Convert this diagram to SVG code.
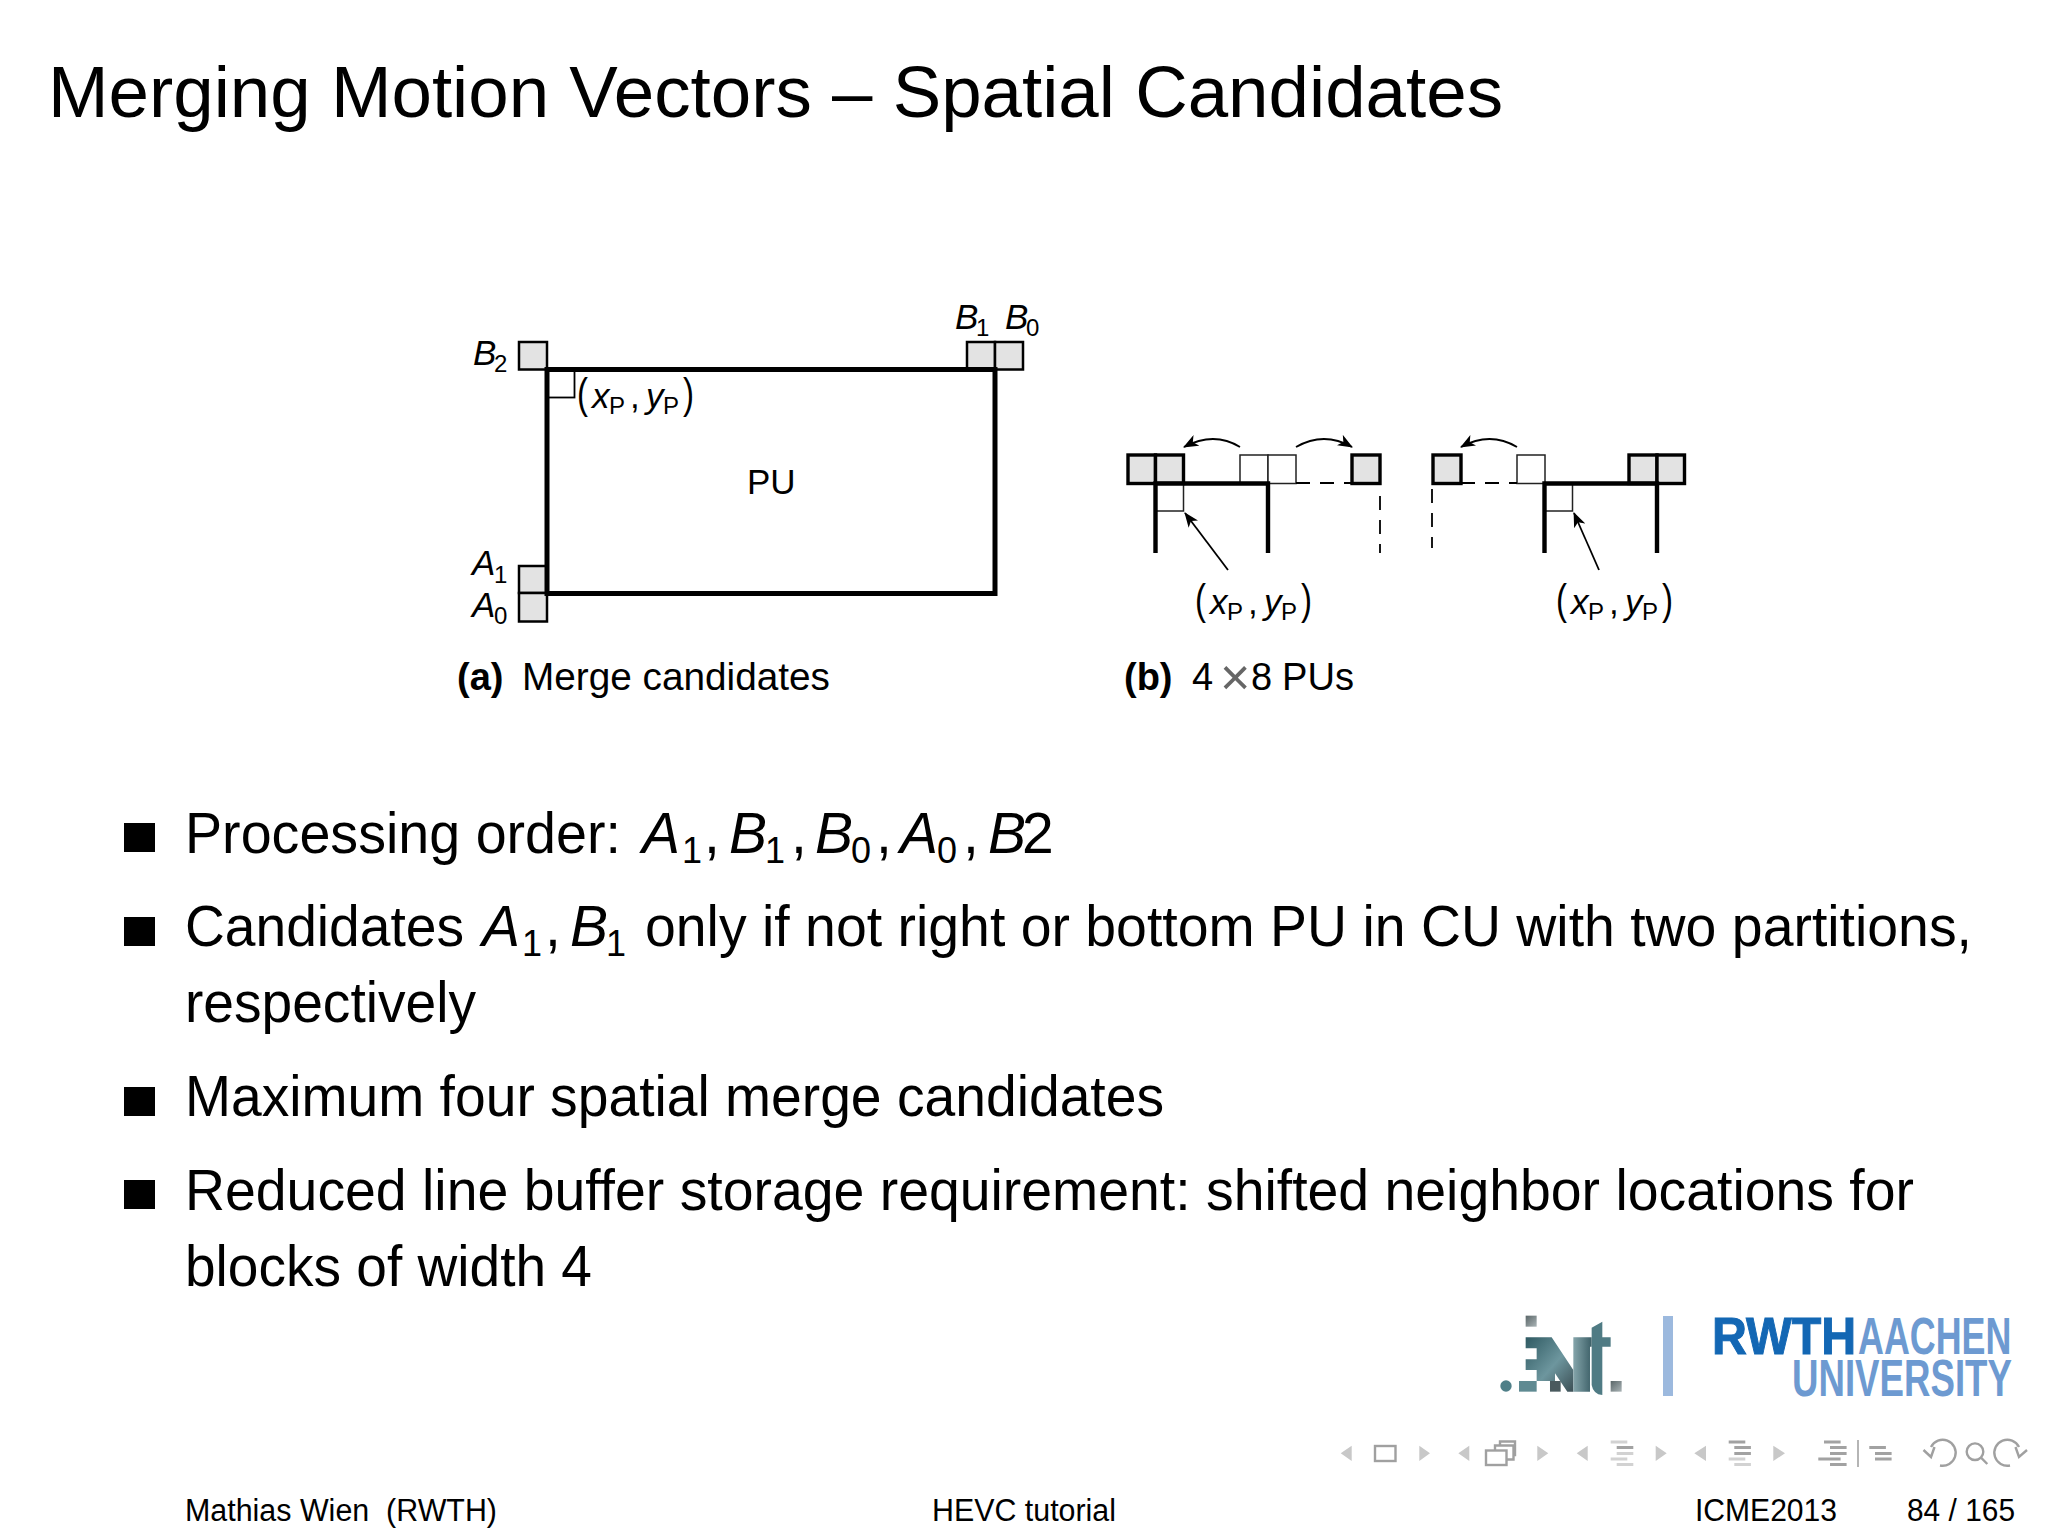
<svg xmlns="http://www.w3.org/2000/svg" width="2048" height="1536" viewBox="0 0 2048 1536">
<defs>
<style>
text{font-family:"Liberation Sans",Arial,sans-serif;fill:#000}
.i{font-style:italic}
.body{font-size:57px}
.sub{font-size:36px}
.m{font-size:35px}
.s{font-size:24px}
.par{font-size:33px}
.cap{font-size:38px}
.foot{font-size:31px}
.cand{fill:#e3e3e3;stroke:#000;stroke-width:2.5}
.cb{fill:#e3e3e3;stroke:#000;stroke-width:3.4}
.open{fill:#fff;stroke:#222;stroke-width:1.5}
.pu{fill:none;stroke:#000;stroke-width:4.4}
.pua{fill:none;stroke:#000;stroke-width:5}
.dash{fill:none;stroke:#000;stroke-width:1.8;stroke-dasharray:14 10}
.thin{fill:none;stroke:#000;stroke-width:1.8}
.bullet{fill:#000}
.tri{fill:#c8c8c8}
.d{fill:#a2a2a2}
.l{fill:#d2d2d2}
.navl{fill:none;stroke:#a0a0a0;stroke-width:2.4}
.rw{font-size:52px;font-weight:bold}
</style>
<marker id="ah" viewBox="0 0 15 12" refX="14" refY="6" markerWidth="15" markerHeight="12" markerUnits="userSpaceOnUse" orient="auto"><path d="M0 0L15 6L0 12L4 6Z" fill="#000"/></marker>
<linearGradient id="lg" x1="0" y1="0" x2="1" y2="1"><stop offset="0" stop-color="#2f5a62"/><stop offset=".55" stop-color="#6d969e"/><stop offset="1" stop-color="#3c4f55"/></linearGradient>
<linearGradient id="lt" x1="0" y1="0" x2="1" y2="0"><stop offset="0" stop-color="#85a5ab"/><stop offset="1" stop-color="#3d6068"/></linearGradient>
<linearGradient id="lb" x1="0" y1="0" x2="1" y2="1"><stop offset="0" stop-color="#5a6668"/><stop offset="1" stop-color="#aab4b6"/></linearGradient>
<g id="xy"><text class="par" x="0" y="0" transform="scale(1 1.3)">(</text><text class="m i" x="15" y="0">x</text><text class="s" x="32" y="6">P</text><text class="m" x="53" y="0">,</text><text class="m i" x="69" y="0">y</text><text class="s" x="86" y="6">P</text><text class="par" x="106" y="0" transform="scale(1 1.3)">)</text></g>
</defs>
<rect width="2048" height="1536" fill="#fff"/>
<text x="48" y="117" font-size="72" textLength="1455" lengthAdjust="spacingAndGlyphs">Merging Motion Vectors – Spatial Candidates</text>

<g id="figure-a">
<rect class="cand" x="519" y="342" width="28" height="27.5"/>
<rect class="cand" x="967" y="342" width="28" height="27.5"/>
<rect class="cand" x="995" y="342" width="28" height="27.5"/>
<rect class="cand" x="519" y="566" width="28" height="27"/>
<rect class="cand" x="519" y="593" width="28" height="28.5"/>
<rect class="thin" x="547" y="369.5" width="27.5" height="28"/>
<rect class="pua" x="547" y="369.5" width="448" height="224"/>
<text class="m" x="747" y="494">PU</text>
<g><text class="m i" x="473" y="365">B</text><text class="s" x="494" y="372">2</text></g>
<g><text class="m i" x="955" y="329">B</text><text class="s" x="976" y="336">1</text></g>
<g><text class="m i" x="1005" y="329">B</text><text class="s" x="1026" y="336">0</text></g>
<g><text class="m i" x="472" y="575">A</text><text class="s" x="494" y="583">1</text></g>
<g><text class="m i" x="472" y="617">A</text><text class="s" x="494" y="624">0</text></g>
<use href="#xy" x="577" y="408"/>
<text class="cap" x="457" y="690" font-weight="bold">(a)</text>
<text class="cap" x="522" y="690" textLength="308" lengthAdjust="spacingAndGlyphs">Merge candidates</text>
</g>

<g id="figure-b">
<g id="pu-left">
<rect class="cb" x="1128" y="455" width="27.5" height="28.5"/>
<rect class="cb" x="1155.5" y="455" width="28" height="28.5"/>
<rect class="open" x="1240" y="455" width="28" height="28.5"/>
<rect class="open" x="1268" y="455" width="28" height="28.5"/>
<rect class="cb" x="1352" y="455" width="28" height="28.5"/>
<rect class="open" x="1155.5" y="483.5" width="28" height="27.5"/>
<path class="pu" d="M1155.5 553V483.5H1268V553"/>
<path class="dash" d="M1296 483H1352"/>
<path class="dash" d="M1380 496V553"/>
</g>
<g id="pu-right">
<rect class="cb" x="1433" y="455" width="28" height="28.5"/>
<rect class="open" x="1517" y="455" width="28" height="28.5"/>
<rect class="cb" x="1629" y="455" width="28" height="28.5"/>
<rect class="cb" x="1657" y="455" width="27.5" height="28.5"/>
<rect class="open" x="1544.5" y="483.5" width="28" height="27.5"/>
<path class="pu" d="M1544.5 553V483.5H1657V553"/>
<path class="dash" d="M1461 483H1517"/>
<path class="dash" d="M1432 489V548"/>
</g>
<g id="connectors">
<path class="thin" marker-end="url(#ah)" d="M1240 447Q1214 431 1184 447"/>
<path class="thin" marker-end="url(#ah)" d="M1296 447Q1324 431 1352 447"/>
<path class="thin" marker-end="url(#ah)" d="M1517 447Q1490 431 1461 447"/>
<path class="thin" marker-end="url(#ah)" d="M1228 570L1185 513"/>
<path class="thin" marker-end="url(#ah)" d="M1599 570L1574 513"/>
</g>
<use href="#xy" x="1195" y="614"/>
<use href="#xy" x="1556" y="614"/>
<text class="cap" x="1124" y="690" font-weight="bold">(b)</text>
<text class="cap" x="1192" y="690">4</text><text x="1220" y="695" font-size="52" style="fill:#666">×</text><text class="cap" x="1251" y="690">8</text><text class="cap" x="1282" y="690" textLength="72" lengthAdjust="spacingAndGlyphs">PUs</text>
</g>

<g id="bullets">
<rect class="bullet" x="124" y="823" width="31" height="29"/>
<rect class="bullet" x="124" y="917" width="31" height="29"/>
<rect class="bullet" x="124" y="1087" width="31" height="29"/>
<rect class="bullet" x="124" y="1180" width="31" height="29"/>
<text class="body" x="185" y="853" textLength="436" lengthAdjust="spacingAndGlyphs">Processing order:</text>
<text class="body i" x="642" y="853">A</text><text class="sub" x="682" y="863">1</text><text class="body" x="704" y="853">,</text>
<text class="body i" x="729" y="853">B</text><text class="sub" x="765" y="863">1</text><text class="body" x="791" y="853">,</text>
<text class="body i" x="815" y="853">B</text><text class="sub" x="851" y="863">0</text><text class="body" x="876" y="853">,</text>
<text class="body i" x="900" y="853">A</text><text class="sub" x="937" y="863">0</text><text class="body" x="963" y="853">,</text>
<text class="body i" x="988" y="853">B</text><text class="body" x="1022" y="853">2</text>
<text class="body" x="185" y="946" textLength="279" lengthAdjust="spacingAndGlyphs">Candidates</text>
<text class="body i" x="482" y="946">A</text><text class="sub" x="522" y="956">1</text><text class="body" x="545" y="946">,</text>
<text class="body i" x="570" y="946">B</text><text class="sub" x="606" y="956">1</text>
<text class="body" x="645" y="946" textLength="1327" lengthAdjust="spacingAndGlyphs">only if not right or bottom PU in CU with two partitions,</text>
<text class="body" x="185" y="1022" textLength="291" lengthAdjust="spacingAndGlyphs">respectively</text>
<text class="body" x="185" y="1116" textLength="979" lengthAdjust="spacingAndGlyphs">Maximum four spatial merge candidates</text>
<text class="body" x="185" y="1210" textLength="1729" lengthAdjust="spacingAndGlyphs">Reduced line buffer storage requirement: shifted neighbor locations for</text>
<text class="body" x="185" y="1286" textLength="407" lengthAdjust="spacingAndGlyphs">blocks of width 4</text>
</g>

<g id="logo-int" transform="translate(1490 1305) scale(.3333)">
<rect x="107" y="32" width="33" height="33" fill="url(#lb)"/>
<circle cx="48" cy="243" r="17" fill="#4f7f88"/>
<rect x="87" y="228" width="53" height="32" fill="#5f8a92"/>
<path d="M107 97H185L250 195V260H232L195 205V228H140V195H107V163H140V130H107Z" fill="url(#lg)"/>
<rect x="180" y="228" width="32" height="32" fill="#4a5a5e"/>
<path d="M250 97H305V125H300V260H250Z" fill="url(#lt)"/>
<path d="M305 68L337 50V97H362V125H337V270Q310 268 305 240Z" fill="#4f7b84"/>
<rect x="362" y="228" width="33" height="32" fill="url(#lb)"/>
</g>
<rect id="logo-bar" x="1663" y="1316" width="10" height="80" fill="#9cb9de"/>
<g id="logo-rwth">
<text class="rw" transform="translate(1712 1354) scale(.93 1)" stroke="#1367b4" stroke-width="1" style="fill:#1367b4">RWTH</text>
<text class="rw" transform="translate(1858 1354) scale(.69 1)" style="fill:#6d9ad1">AACHEN</text>
<text class="rw" transform="translate(1792 1396) scale(.705 1)" style="fill:#6d9ad1">UNIVERSITY</text>
</g>

<g id="nav">
<path class="tri" d="M1340.7 1453.3L1351.7 1445.7V1461ZM1430 1453.3L1419.3 1445.7V1461ZM1458.3 1453.3L1469.3 1445.7V1461ZM1548.3 1453.3L1537.3 1445.7V1461ZM1576.7 1453.3L1587.7 1445.7V1461ZM1666.7 1453.3L1655.7 1445.7V1461ZM1694.3 1453.3L1706 1445.7V1461ZM1785 1453.3L1773.3 1445.7V1461Z"/>
<rect class="navl" x="1375" y="1446" width="20.5" height="15"/>
<path class="navl" d="M1495 1450V1445.5H1513.5V1459.5H1507M1500 1445.5V1441.5H1515V1455H1513.5"/>
<rect class="navl" x="1486" y="1450.5" width="20.5" height="14.5"/>
<rect class="l" x="1610.7" y="1440.5" width="16.6" height="3"/><rect class="d" x="1616.7" y="1446" width="16.6" height="3"/><rect class="l" x="1616.7" y="1452" width="16.6" height="3"/><rect class="l" x="1610.7" y="1457.5" width="16.6" height="3"/><rect class="l" x="1616.7" y="1463" width="16.6" height="3"/>
<rect class="d" x="1728.7" y="1440.5" width="16.6" height="3"/><rect class="d" x="1734.3" y="1446" width="16.6" height="3"/><rect class="d" x="1734.3" y="1452" width="16.6" height="3"/><rect class="l" x="1728.7" y="1457.5" width="16.6" height="3"/><rect class="l" x="1734.3" y="1463" width="16.6" height="3"/>
<rect class="d" x="1824" y="1440.5" width="16.6" height="3"/><rect class="d" x="1830" y="1446" width="16.6" height="3"/><rect class="d" x="1830" y="1452" width="16.6" height="3"/><rect class="d" x="1818.3" y="1457.5" width="22.3" height="3"/><rect class="d" x="1830" y="1463" width="16.6" height="3"/>
<rect x="1857" y="1440" width="2" height="27" fill="#b5b5b5"/>
<rect class="d" x="1869.3" y="1446" width="16.6" height="3"/><rect class="d" x="1875" y="1452" width="16.6" height="3"/><rect class="d" x="1875" y="1457.5" width="16.6" height="3"/>
<path class="navl" d="M1931 1447A13 13 0 1 1 1940 1465.5M1923.5 1450L1931 1457L1934.5 1447"/>
<path class="navl" d="M1987.3 1464L1981 1457.7"/>
<circle class="navl" cx="1975" cy="1451.7" r="8.3"/>
<path class="navl" d="M2019 1447A13 13 0 1 0 2010 1465.5M2027 1450L2019 1457L2015.5 1447"/>
</g>

<g id="footer">
<text class="foot" x="185" y="1521" textLength="312" lengthAdjust="spacingAndGlyphs" xml:space="preserve">Mathias Wien  (RWTH)</text>
<text class="foot" x="932" y="1521" textLength="184" lengthAdjust="spacingAndGlyphs">HEVC tutorial</text>
<text class="foot" x="1695" y="1521" textLength="142" lengthAdjust="spacingAndGlyphs">ICME2013</text>
<text class="foot" x="1907" y="1521" textLength="108" lengthAdjust="spacingAndGlyphs">84 / 165</text>
</g>
</svg>
